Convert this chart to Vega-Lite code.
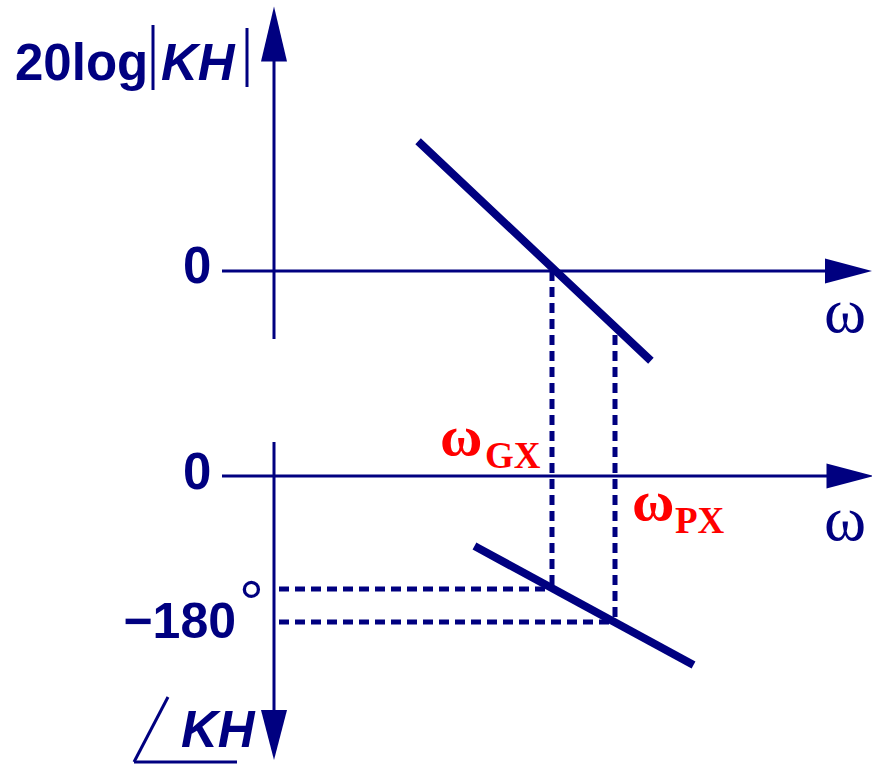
{
  "$schema": "https://vega.github.io/schema/vega-lite/v6.json",
  "width": 872,
  "height": 765,
  "autosize": "none",
  "padding": 0,
  "background": "white",
  "config": {"view": {"stroke": null}},
  "datasets": {
    "axes": [
      {"x": 274, "y": 60, "x2": 274, "y2": 339},
      {"x": 222, "y": 271, "x2": 830, "y2": 271},
      {"x": 274, "y": 442, "x2": 274, "y2": 712},
      {"x": 222, "y": 476, "x2": 832, "y2": 476},
      {"x": 153, "y": 25, "x2": 153, "y2": 90},
      {"x": 247, "y": 28, "x2": 247, "y2": 87},
      {"x": 168, "y": 697, "x2": 134, "y2": 762},
      {"x": 134, "y": 762, "x2": 237, "y2": 762}
    ],
    "asymptotes": [
      {"plot": "gain", "x": 421, "y": 144, "x2": 648, "y2": 358},
      {"plot": "phase", "x": 478, "y": 548, "x2": 690, "y2": 663}
    ],
    "crossovers": [
      {"x": 552, "y": 271, "x2": 552, "y2": 589},
      {"x": 615, "y": 335, "x2": 615, "y2": 622},
      {"x": 279, "y": 589, "x2": 552, "y2": 589},
      {"x": 279, "y": 622, "x2": 615, "y2": 622}
    ],
    "arrowheads": [
      {"dir": "up", "x": 274, "y": 34},
      {"dir": "right", "x": 848.5, "y": 271},
      {"dir": "right", "x": 850, "y": 476},
      {"dir": "down", "x": 274, "y": 735}
    ],
    "sansLabels": [
      {"text": "20log", "x": 15, "y": 80},
      {"text": "0", "x": 183, "y": 283},
      {"text": "0", "x": 183, "y": 489}
    ],
    "phaseLabel": [
      {"text": "−180", "x": 236, "y": 638}
    ],
    "degreeLabels": [
      {"text": "°", "x": 239, "y": 624}
    ],
    "italicLabels": [
      {"text": "KH", "x": 161, "y": 80},
      {"text": "KH", "x": 181, "y": 747}
    ],
    "omegaLabels": [
      {"text": "ω", "x": 845, "y": 332},
      {"text": "ω", "x": 845, "y": 540}
    ],
    "crossoverSymbols": [
      {"text": "ω", "x": 440, "y": 455},
      {"text": "ω", "x": 632, "y": 520}
    ],
    "crossoverSubscripts": [
      {"text": "GX", "x": 485, "y": 468},
      {"text": "PX", "x": 675, "y": 533}
    ]
  },
  "encoding": {
    "x": {"field": "x", "type": "quantitative", "axis": null,
          "scale": {"domain": [0, 872], "nice": false, "zero": false}},
    "y": {"field": "y", "type": "quantitative", "axis": null,
          "scale": {"domain": [0, 765], "nice": false, "zero": false, "reverse": true}}
  },
  "layer": [
    {
      "data": {"name": "axes"},
      "mark": {"type": "rule", "color": "#000080", "strokeWidth": 3},
      "encoding": {
        "x2": {"field": "x2"},
        "y2": {"field": "y2"}
      }
    },
    {
      "data": {"name": "crossovers"},
      "mark": {"type": "rule", "color": "#000080", "strokeWidth": 5, "strokeDash": [10, 6]},
      "encoding": {
        "x2": {"field": "x2"},
        "y2": {"field": "y2"}
      }
    },
    {
      "data": {"name": "asymptotes"},
      "mark": {"type": "rule", "color": "#000080", "strokeWidth": 8, "strokeCap": "square"},
      "encoding": {
        "x2": {"field": "x2"},
        "y2": {"field": "y2"}
      }
    },
    {
      "data": {"name": "arrowheads"},
      "mark": {"type": "point", "filled": true, "color": "#000080", "opacity": 1, "size": 2500},
      "encoding": {
        "shape": {
          "field": "dir", "type": "nominal", "legend": null,
          "scale": {
            "domain": ["up", "right", "down"],
            "range": [
              "M0,-1.1L0.52,1.1L-0.52,1.1Z",
              "M0.94,0L-0.94,0.5L-0.94,-0.5Z",
              "M0,1L0.52,-1L-0.52,-1Z"
            ]
          }
        }
      }
    },
    {
      "data": {"name": "sansLabels"},
      "mark": {"type": "text", "font": "Liberation Sans", "fontWeight": "bold", "fontSize": 51,
               "align": "left", "baseline": "alphabetic", "color": "#000080"},
      "encoding": {"text": {"field": "text"}}
    },
    {
      "data": {"name": "phaseLabel"},
      "mark": {"type": "text", "font": "Liberation Sans", "fontWeight": "bold", "fontSize": 50,
               "align": "right", "baseline": "alphabetic", "color": "#000080"},
      "encoding": {"text": {"field": "text"}}
    },
    {
      "data": {"name": "degreeLabels"},
      "mark": {"type": "text", "font": "Liberation Sans", "fontSize": 62,
               "align": "left", "baseline": "alphabetic", "color": "#000080"},
      "encoding": {"text": {"field": "text"}}
    },
    {
      "data": {"name": "italicLabels"},
      "mark": {"type": "text", "font": "Liberation Sans", "fontWeight": "bold", "fontStyle": "italic",
               "fontSize": 51, "align": "left", "baseline": "alphabetic", "color": "#000080"},
      "encoding": {"text": {"field": "text"}}
    },
    {
      "data": {"name": "omegaLabels"},
      "mark": {"type": "text", "font": "Liberation Serif", "fontSize": 64,
               "align": "center", "baseline": "alphabetic", "color": "#000080"},
      "encoding": {"text": {"field": "text"}}
    },
    {
      "data": {"name": "crossoverSymbols"},
      "mark": {"type": "text", "font": "Liberation Serif", "fontWeight": "bold", "fontSize": 58,
               "align": "left", "baseline": "alphabetic", "color": "#ff0000"},
      "encoding": {"text": {"field": "text"}}
    },
    {
      "data": {"name": "crossoverSubscripts"},
      "mark": {"type": "text", "font": "Liberation Serif", "fontWeight": "bold", "fontSize": 37,
               "align": "left", "baseline": "alphabetic", "color": "#ff0000"},
      "encoding": {"text": {"field": "text"}}
    }
  ]
}
